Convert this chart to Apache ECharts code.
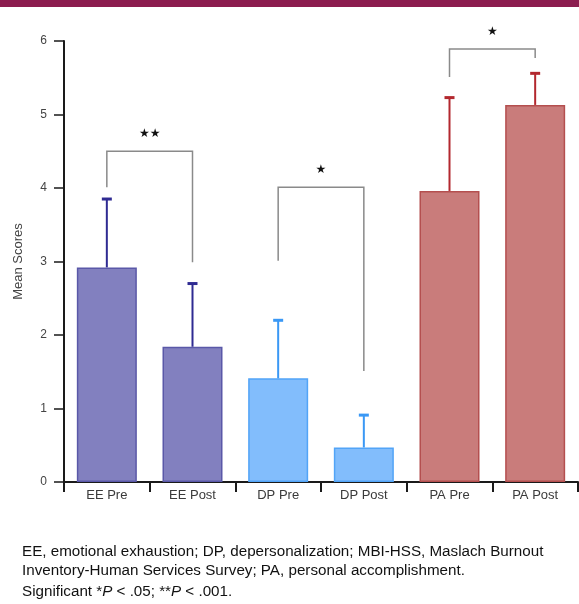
<!DOCTYPE html>
<html>
<head>
<meta charset="utf-8">
<script src="https://cdn.jsdelivr.net/npm/echarts@6/dist/echarts.min.js"></script>
<style>
html,body{margin:0;padding:0;background:#fff;}
#c{width:579px;height:604px;}
</style>
</head>
<body>
<div id="c"></div>
<script>
// ---- data ----
var categories = ['EE Pre', 'EE Post', 'DP Pre', 'DP Post', 'PA Pre', 'PA Post'];
var means = [2.92, 1.84, 1.41, 0.47, 3.96, 5.13];
var errorTops = [3.85, 2.70, 2.20, 0.91, 5.23, 5.56];
var yTicks = [0, 1, 2, 3, 4, 5, 6];
var bracketFrom = [0, 2, 4];
var bracketTo = [1, 3, 5];
var bracketTop = [4.50, 4.01, 5.89];
var bracketFromEnd = [4.01, 3.01, 5.51];
var bracketToEnd = [2.99, 1.51, 5.77];
var bracketLabels = ['★★', '★', '★'];

// ---- styles ----
var fillColors = ['#8280bf', '#8280bf', '#82bdfc', '#82bdfc', '#c97c7b', '#c97c7b'];
var borderColors = ['#5a58a8', '#5a58a8', '#52a4f7', '#52a4f7', '#b44f4f', '#b44f4f'];
var errColors = ['#2f2b92', '#2f2b92', '#3a98f5', '#3a98f5', '#b3282e', '#b3282e'];

var chart = echarts.init(document.getElementById('c'), null, {renderer: 'canvas'});

var barData = means.map(function (v, i) {
  return {value: v, itemStyle: {color: fillColors[i], borderColor: borderColors[i], borderWidth: 1.5}};
});
var errData = means.map(function (v, i) { return [i, v, errorTops[i]]; });
var brData = bracketFrom.map(function (f, i) {
  return [f, bracketTo[i], bracketTop[i], bracketFromEnd[i], bracketToEnd[i], i];
});

var option = {
  animation: false,
  backgroundColor: '#fff',
  textStyle: {fontFamily: 'Liberation Sans, Arial, sans-serif'},
  grid: {left: 64, right: 1, top: 41, bottom: 122, containLabel: false},
  xAxis: {
    type: 'category',
    data: categories,
    axisLine: {lineStyle: {color: '#1a1a1a', width: 2}},
    axisTick: {show: true, length: 10, interval: 0, lineStyle: {color: '#1a1a1a', width: 2}},
    axisLabel: {fontSize: 13, color: '#3a3a3a', margin: 7, interval: 0}
  },
  yAxis: {
    type: 'value',
    min: yTicks[0], max: yTicks[yTicks.length - 1], interval: 1,
    name: 'Mean Scores',
    nameLocation: 'middle',
    nameGap: 39,
    nameTextStyle: {fontSize: 13, color: '#444'},
    axisLine: {show: true, lineStyle: {color: '#1a1a1a', width: 2}},
    axisTick: {show: true, length: 10, lineStyle: {color: '#1a1a1a', width: 1.5}},
    axisLabel: {fontSize: 12, color: '#444', margin: 17},
    splitLine: {show: false}
  },
  graphic: [
    {type: 'rect', left: 0, top: 0, shape: {width: 579, height: 7}, style: {fill: '#8c1d4f'}},
    {type: 'text', left: 22, top: 542, style: {
      text: 'EE, emotional exhaustion; DP, depersonalization; MBI-HSS, Maslach Burnout\nInventory-Human Services Survey; PA, personal accomplishment.',
      font: '15.2px "Liberation Sans", Arial, sans-serif', fill: '#111', lineHeight: 19}},
    {type: 'text', left: 22, top: 584, style: {
      text: '{n|Significant *}{i|P}{n| < .05; **}{i|P}{n| < .001.}',
      rich: {
        n: {font: '15.2px "Liberation Sans", Arial, sans-serif', fill: '#111'},
        i: {font: 'italic 15.2px "Liberation Sans", Arial, sans-serif', fill: '#111'}
      }}}
  ],
  series: [
    {
      type: 'bar',
      data: barData,
      barWidth: 60,
      z: 2
    },
    {
      type: 'custom',
      z: 3,
      data: errData,
      renderItem: function (params, api) {
        var i = api.value(0);
        var p0 = api.coord([i, api.value(1)]);
        var p1 = api.coord([i, api.value(2)]);
        var c = errColors[i];
        return {
          type: 'group',
          children: [
            {type: 'line', shape: {x1: p0[0], y1: p0[1], x2: p1[0], y2: p1[1]}, style: {stroke: c, lineWidth: 2}},
            {type: 'line', shape: {x1: p1[0] - 5, y1: p1[1], x2: p1[0] + 5, y2: p1[1]}, style: {stroke: c, lineWidth: 3}}
          ]
        };
      }
    },
    {
      type: 'custom',
      z: 3,
      data: brData,
      renderItem: function (params, api) {
        var a = api.value(0), b = api.value(1);
        var pTopA = api.coord([a, api.value(2)]);
        var pTopB = api.coord([b, api.value(2)]);
        var pA = api.coord([a, api.value(3)]);
        var pB = api.coord([b, api.value(4)]);
        var k = api.value(5);
        return {
          type: 'group',
          children: [
            {type: 'polyline', shape: {points: [pA, pTopA, pTopB, pB]},
             style: {stroke: '#8a8a8a', lineWidth: 1.5, fill: null}},
            {type: 'text', x: (pTopA[0] + pTopB[0]) / 2, y: pTopA[1] - 17,
             style: {text: bracketLabels[k], fill: '#111', font: '12px "DejaVu Sans", sans-serif',
                     align: 'center', verticalAlign: 'middle'}}
          ]
        };
      }
    }
  ]
};
chart.setOption(option);
</script>
</body>
</html>
